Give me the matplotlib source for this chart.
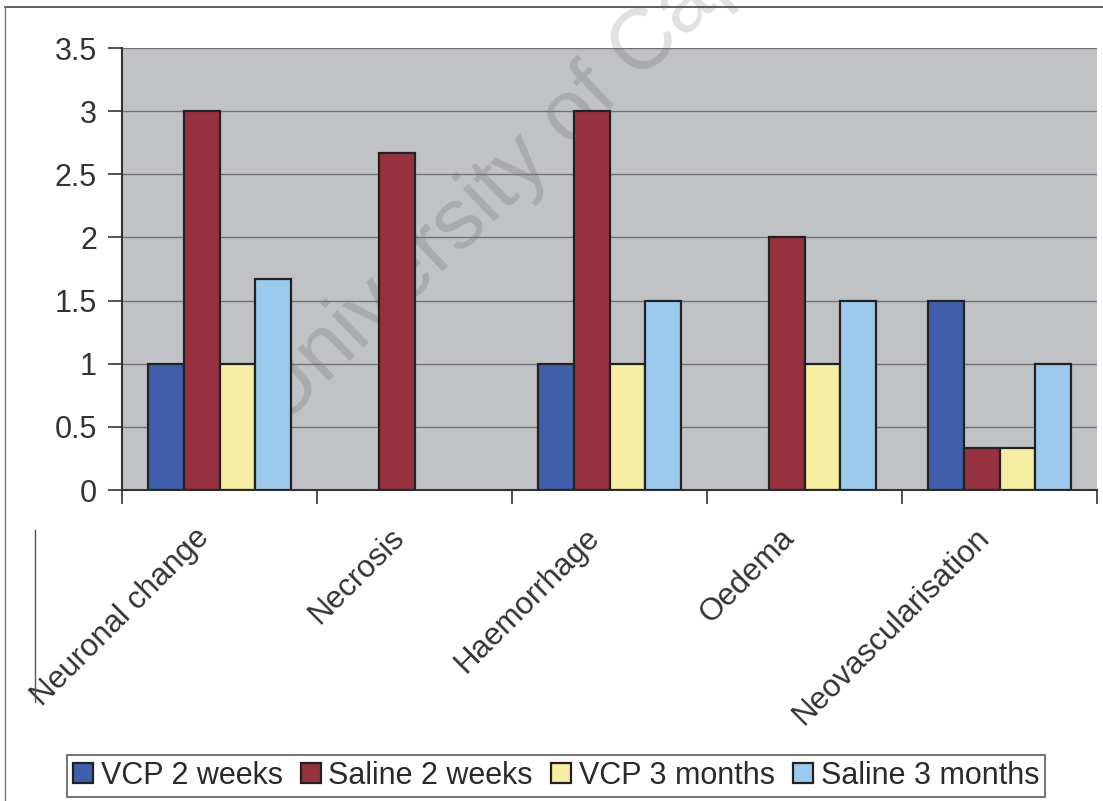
import matplotlib
matplotlib.use("Agg")
import numpy as np
from matplotlib import pyplot as plt
from matplotlib import transforms
from matplotlib.lines import Line2D
from matplotlib.patches import Rectangle

categories = ["Neuronal change", "Necrosis", "Haemorrhage", "Oedema", "Neovascularisation"]
series_names = ["VCP 2 weeks", "Saline 2 weeks", "VCP 3 months", "Saline 3 months"]
vcp_2_weeks = [1, 0, 1, 0, 1.5]
saline_2_weeks = [3, 2.67, 3, 2, 0.33]
vcp_3_months = [1, 0, 1, 1, 0.33]
saline_3_months = [1.67, 0, 1.5, 1.5, 1]
y_ticks = [0, 0.5, 1, 1.5, 2, 2.5, 3, 3.5]

colours = ["#3F5FAA", "#963240", "#F4EDA2", "#9CC9EE"]

plt.rcParams.update(
    {
        "font.family": "Liberation Sans",
        "font.size": 22,
        "text.color": "#2a2a2a",
        "xtick.color": "#333333",
        "ytick.color": "#333333",
    }
)

W, H = 1103, 801
fig = plt.figure(figsize=(W / 100, H / 100), dpi=100)
fig.patch.set_facecolor("white")

# plot area in pixel coordinates
left, right, top, bottom = 122, 1097, 48, 490
ax_rect = [left / W, 1 - bottom / H, (right - left) / W, (bottom - top) / H]
ax = fig.add_axes(ax_rect)
ax.set_facecolor("none")

# grey plot background drawn at figure level so the watermark sits between it and the bars
fig.add_artist(Rectangle((ax_rect[0], ax_rect[1]), ax_rect[2], ax_rect[3],
                         transform=fig.transFigure, facecolor="#C0C2C5",
                         edgecolor="none", zorder=-3))

# watermark
fig.text(
    280 / W,
    1 - 428 / H,
    "University of Cape Town",
    fontsize=62,
    rotation=44,
    rotation_mode="anchor",
    color="black",
    alpha=0.12,
    ha="left",
    va="baseline",
    zorder=-2,
)

x = np.arange(len(categories))
bar_width = 0.183
all_series = [vcp_2_weeks, saline_2_weeks, vcp_3_months, saline_3_months]
for i, (values, colour, name) in enumerate(zip(all_series, colours, series_names)):
    offset = (i - 1.5) * bar_width
    bars = ax.bar(
        x + offset,
        values,
        width=bar_width,
        color=colour,
        edgecolor="#222222",
        linewidth=1.6,
        label=name,
        zorder=3,
    )
    for b, v in zip(bars, values):
        if v == 0:
            b.set_linewidth(0)

ax.set_xlim(-0.5, len(categories) - 0.5)
ax.set_ylim(0, 3.5)
ax.set_yticks(y_ticks)
ax.set_yticklabels([f"{v:g}" for v in y_ticks])
ax.yaxis.grid(True, color="#727272", linewidth=1.0, zorder=1)

# category boundaries as tick marks, labels at centres
ax.set_xticks(np.arange(-0.5, len(categories), 1.0))
ax.set_xticklabels([])
ax.set_xticks(x, minor=True)
ax.set_xticklabels(categories, minor=True, rotation=45, ha="right",
                   rotation_mode="anchor", fontsize=22.5)
ax.tick_params(axis="x", which="minor", length=0, pad=22)
ax.tick_params(axis="x", which="major", direction="out", length=10, width=1.2)
ax.tick_params(axis="y", direction="out", length=10, width=1.2, pad=8)

shift = transforms.ScaledTranslation(-25 / 100, -2 / 100, fig.dpi_scale_trans)
for lbl in ax.get_xticklabels(minor=True):
    lbl.set_transform(lbl.get_transform() + shift)

for side in ["top", "right"]:
    ax.spines[side].set_visible(False)
ax.spines["left"].set_color("#333333")
ax.spines["left"].set_linewidth(1.5)
ax.spines["bottom"].set_color("#333333")
ax.spines["bottom"].set_linewidth(1.5)

leg = fig.legend(
    loc="center",
    bbox_to_anchor=(556 / W, 1 - 776 / H),
    ncol=4,
    fontsize=22,
    frameon=True,
    fancybox=False,
    edgecolor="#333333",
    handlelength=0.65,
    handleheight=0.65,
    handletextpad=0.25,
    columnspacing=0.6,
    borderpad=0.2,
    borderaxespad=0,
)
leg.get_frame().set_linewidth(1.2)

# scanned page border lines
fig.add_artist(Line2D([5 / W, 1], [1 - 7 / H, 1 - 7 / H], transform=fig.transFigure,
                      color="#444444", linewidth=1.2))
fig.add_artist(Line2D([5 / W, 5 / W], [0, 1 - 7 / H], transform=fig.transFigure,
                      color="#777777", linewidth=1.0))
fig.add_artist(Line2D([35 / W, 35 / W], [1 - 702 / H, 1 - 530 / H], transform=fig.transFigure,
                      color="#555555", linewidth=1.0))

fig.savefig("out.png", dpi=100)
